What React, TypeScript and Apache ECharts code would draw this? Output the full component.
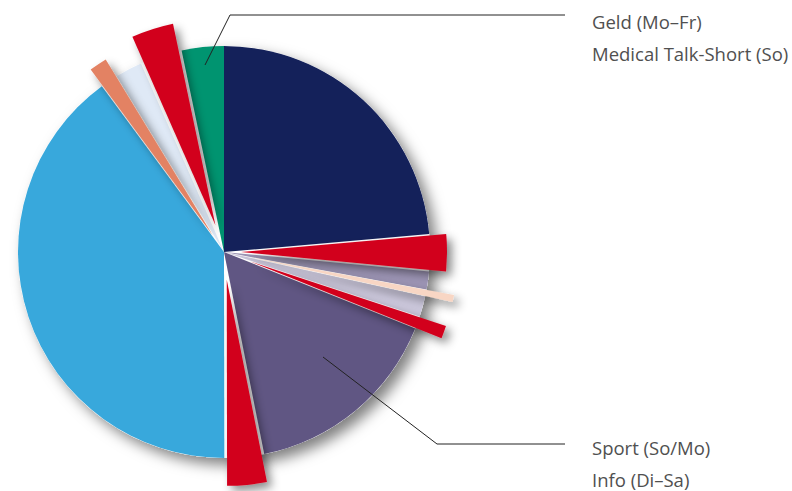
import React, { useEffect, useRef } from "react";
import * as echarts from "echarts";

const names = [
  "Navy", "Rot 1", "Lavendel", "Pfirsich", "Hell-Lavendel", "Rot 2", "Sport/Info",
  "Rot 3", "Hellblau", "Orange", "Hellweiß", "Rot 4", "Geld/Medical",
];
const values = [23.6, 2.9, 1.4, 0.55, 1.6, 1.0, 15.8, 3.1, 39.9, 1.4, 2.1, 3.3, 3.3];
const colors = [
  "#14215a", "#d2001e", "#9c94b4", "#f8d6c4", "#cac6da", "#d2001e", "#605683",
  "#d2001e", "#38a8dc", "#e38264", "#dfe9f6", "#d2001e", "#009470",
];
// explode group per slice: 0 = not exploded; others index into offsets
const explode = [0, 1, 0, 3, 0, 3, 0, 3, 0, 2, 0, 3, 0];
const offsets = [0, 17, 20, 28];
const topLabels = ["Geld (Mo–Fr)", "Medical Talk-Short (So)"];
const bottomLabels = ["Sport (So/Mo)", "Info (Di–Sa)"];

const CENTER = [224, 252];
const RADIUS = 206;
const HIDDEN = {
  color: "rgba(0,0,0,0)",
  borderWidth: 0,
  borderColor: "rgba(0,0,0,0)",
  shadowBlur: 0,
  shadowColor: "rgba(0,0,0,0)",
};

function pieSeries(group: number) {
  return {
    type: "pie",
    center: CENTER,
    radius: RADIUS,
    startAngle: 90,
    clockwise: true,
    silent: true,
    selectedMode: group > 0 ? "multiple" : false,
    selectedOffset: offsets[group],
    itemStyle: { borderWidth: 0 },
    label: { show: false },
    labelLine: { show: false },
    emphasis: { disabled: true },
    data: names.map((n, i) => {
      const mine = explode[i] === group;
      return {
        name: n,
        value: values[i],
        selected: group > 0 && mine,
        itemStyle: mine
          ? {
              color: colors[i],
              borderWidth: 0,
              shadowBlur: group > 0 ? 10 : 0,
              shadowOffsetX: group > 0 ? 5 : 0,
              shadowOffsetY: group > 0 ? 5 : 0,
              shadowColor: group > 0 ? "rgba(0,0,0,0.45)" : "rgba(0,0,0,0)",
            }
          : HIDDEN,
      };
    }),
  };
}

const textStyle = { fontFamily: "Open Sans", fontSize: 18.5, fill: "#505050" };

export default function App() {
  const ref = useRef<HTMLDivElement>(null);
  useEffect(() => {
    document.body.style.margin = "0";
    const chart = echarts.init(ref.current!, null, { renderer: "svg" });
    chart.setOption({
      animation: false,
      backgroundColor: "#ffffff",
      series: [
        {
          type: "pie",
          center: CENTER,
          radius: RADIUS,
          silent: true,
          label: { show: false },
          labelLine: { show: false },
          emphasis: { disabled: true },
          data: [
            {
              value: 1,
              itemStyle: {
                color: "#ffffff",
                borderWidth: 0,
                shadowBlur: 14,
                shadowOffsetX: 7,
                shadowOffsetY: 7,
                shadowColor: "rgba(0,0,0,0.5)",
              },
            },
          ],
        },
        ...offsets.map((_, g) => pieSeries(g)),
      ],
      graphic: [
        {
          type: "polyline",
          z: 100,
          shape: { points: [[205, 65], [230, 15], [565, 15]] },
          style: { stroke: "#222", lineWidth: 1, fill: "none" },
        },
        {
          type: "polyline",
          z: 100,
          shape: { points: [[323, 357], [437, 444], [565, 444]] },
          style: { stroke: "#222", lineWidth: 1, fill: "none" },
        },
        ...topLabels.map((t, i) => ({
          type: "text",
          z: 100,
          x: 592,
          y: 21 + i * 32,
          style: { ...textStyle, text: t, verticalAlign: "middle" },
        })),
        ...bottomLabels.map((t, i) => ({
          type: "text",
          z: 100,
          x: 592,
          y: 447 + i * 32,
          style: { ...textStyle, text: t, verticalAlign: "middle" },
        })),
      ],
    });
    return () => chart.dispose();
  }, []);
  return <div ref={ref} style={{ width: 792, height: 491 }} />;
}
